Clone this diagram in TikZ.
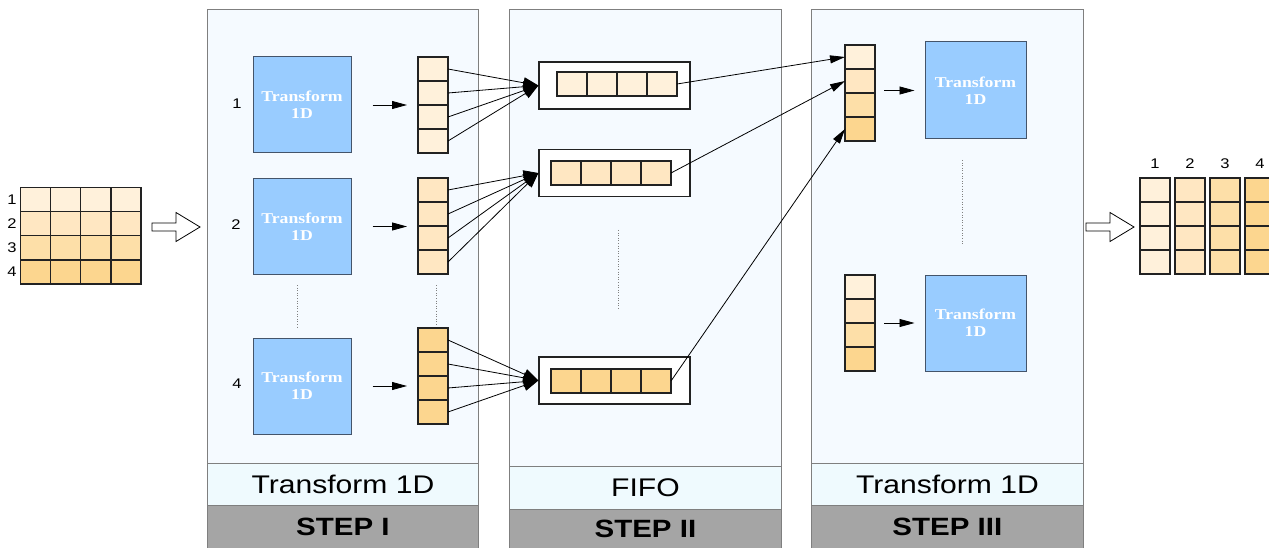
\documentclass[tikz,border=0pt]{standalone}
\usepackage{fontspec}
\setmainfont[FakeStretch=1.18]{Liberation Sans}
\newfontfamily\boxfont[FakeStretch=1.18]{Liberation Serif}
\usetikzlibrary{arrows.meta}

\definecolor{tone1}{HTML}{FFF1DB}
\definecolor{tone2}{HTML}{FFE7C2}
\definecolor{tone3}{HTML}{FDDFA8}
\definecolor{tone4}{HTML}{FCD68F}
\definecolor{panelblue}{HTML}{F5FAFF}
\definecolor{bandblue}{HTML}{EFFAFE}
\definecolor{panelgray}{HTML}{7F7F7F}
\definecolor{stepgray}{HTML}{A5A5A5}
\definecolor{boxblue}{HTML}{99CCFF}
\definecolor{boxedge}{HTML}{44546A}
\definecolor{cellline}{HTML}{222222}

\tikzset{
  panel/.style={draw=panelgray, fill=panelblue, line width=0.8pt},
  band/.style={draw=panelgray, fill=bandblue, line width=0.8pt, anchor=north west,
    minimum width=271pt, minimum height=42pt, inner sep=0pt,
    font=\fontsize{25.5}{28}\selectfont},
  steptag/.style={draw=panelgray, fill=stepgray, line width=0.8pt, anchor=north west,
    minimum width=271pt, minimum height=43pt, inner sep=0pt,
    font=\fontsize{25}{28}\selectfont\bfseries},
  tbox/.style={draw=boxedge, fill=boxblue, line width=1pt, text=white, align=center,
    minimum width=98pt, minimum height=96pt,
    font=\boxfont\bfseries\fontsize{15}{17}\selectfont},
  cell/.style={draw=cellline, line width=1.2pt, minimum width=30pt, minimum height=24pt,
    inner sep=0pt, outer sep=0pt},
  fifo/.style={draw=cellline, fill=white, line width=1.2pt, minimum width=151pt,
    minimum height=47pt},
  idx/.style={font=\fontsize{14}{14}\selectfont, inner sep=1pt},
  feed/.style={-{Triangle[length=15pt,width=11pt]}, line width=0.8pt},
  pass/.style={-{Triangle[length=15pt,width=8pt]}, line width=0.8pt},
  gap/.style={dotted, draw=gray, line width=0.6pt},
  hollowarrow/.pic={
    \draw[fill=white, line width=0.8pt] (0,-4) -- (24,-4) -- (24,-14.5) -- (48,0)
      -- (24,14.5) -- (24,4) -- (0,4) -- cycle;
  }
}

\begin{document}
\begin{tikzpicture}[x=1pt, y=-1pt]
\useasboundingbox (0,0) rectangle (1269,548);

% three stages
\draw[panel] (207,9) rectangle (478,548);
\draw[panel] (509,9) rectangle (781,548);
\draw[panel] (811,9) rectangle (1083,548);
\node[band] (band1) at (207,463) {Transform 1D};
\node[steptag] (tag1) at (207,505) {STEP I};
\node[band, minimum width=272pt, minimum height=43pt] (band2) at (509,466) {FIFO};
\node[steptag, minimum width=272pt, minimum height=39pt] (tag2) at (509,509) {STEP II};
\node[band, minimum width=272pt] (band3) at (811,463) {Transform 1D};
\node[steptag, minimum width=272pt] (tag3) at (811,505) {STEP III};

% input block
\foreach \r in {1,...,4} {
  \node[idx] (inrow-\r) at (12,175+24.25*\r) {\r};
  \foreach \c in {1,...,4}
    \node[cell, fill=tone\r] (in-\r-\c) at (5+30.25*\c,175+24.25*\r) {};
}
\pic at (152,227) {hollowarrow};

% step I
\node[tbox] (t1) at (302,105) {Transform\\1D};
\node[tbox] (t2) at (302,226.5) {Transform\\1D};
\node[tbox] (t3) at (302,386) {Transform\\1D};
\node[idx] (n1) at (237,104) {1};
\node[idx] (n2) at (236,225) {2};
\node[idx] (n4) at (237,384) {4};
\foreach \col/\top/\tone in {a/57/tone1, b/178/tone2, c/328/tone4}
  \foreach \k in {1,...,4}
    \node[cell, fill=\tone] (i\col-\k) at (433,\top-12+24*\k) {};
\draw[gap] (297,285) -- (297,328);
\draw[gap] (436,285) -- (436,325);
\draw[pass] ([xshift=21pt]t1.east) -- ([xshift=-11pt]t1.east -| ia-1.west);
\draw[pass] ([xshift=21pt]t2.east) -- ([xshift=-11pt]t2.east -| ib-1.west);
\draw[pass] ([xshift=21pt]t3.east) -- ([xshift=-11pt]t3.east -| ic-1.west);

% step II
\node[fifo] (f1) at (614.5,85.5) {};
\node[fifo] (f2) at (614.5,173) {};
\node[fifo] (f3) at (614.5,380.5) {};
\foreach \k in {1,...,4} {
  \node[cell, fill=tone1] (f1-\k) at (542+30*\k,84) {};
  \node[cell, fill=tone2] (f2-\k) at (536+30*\k,173) {};
  \node[cell, fill=tone4] (f3-\k) at (536+30*\k,381) {};
}
\draw[gap] (618,230) -- (618,310);
\foreach \k in {1,...,4} {
  \draw[feed] (ia-\k.east) -- (f1.west);
  \draw[feed] (ib-\k.east) -- (f2.west);
  \draw[feed] (ic-\k.east) -- (f3.west);
}

% step III
\foreach \k in {1,...,4} {
  \node[cell, fill=tone\k] (ga-\k) at (860,33+24*\k) {};
  \node[cell, fill=tone\k] (gb-\k) at (860,263+24*\k) {};
}
\node[tbox, minimum width=101pt, minimum height=97pt] (u1) at (975.5,90.5) {Transform\\1D};
\node[tbox, minimum width=101pt] (u2) at (975.5,323) {Transform\\1D};
\draw[gap] (962,160) -- (962,245);
\draw[pass] (f1-4.east) -- (ga-1.west);
\draw[pass] (f2-4.east) -- (ga-2.west);
\draw[pass] (f3-4.east) -- (ga-4.west);
\draw[pass] ([xshift=9pt]u1.west -| ga-1.east) -- ([xshift=-10pt]u1.west);
\draw[pass] ([xshift=9pt]u2.west -| gb-1.east) -- ([xshift=-10pt]u2.west);

% output block
\pic at (1086,227) {hollowarrow};
\foreach \c in {1,...,4} {
  \node[idx] (outcol-\c) at (1120+35*\c,164) {\c};
  \foreach \k in {1,...,4}
    \node[cell, fill=tone\c] (out-\k-\c) at (1120+35*\c,166+24*\k) {};
}
\end{tikzpicture}
\end{document}
